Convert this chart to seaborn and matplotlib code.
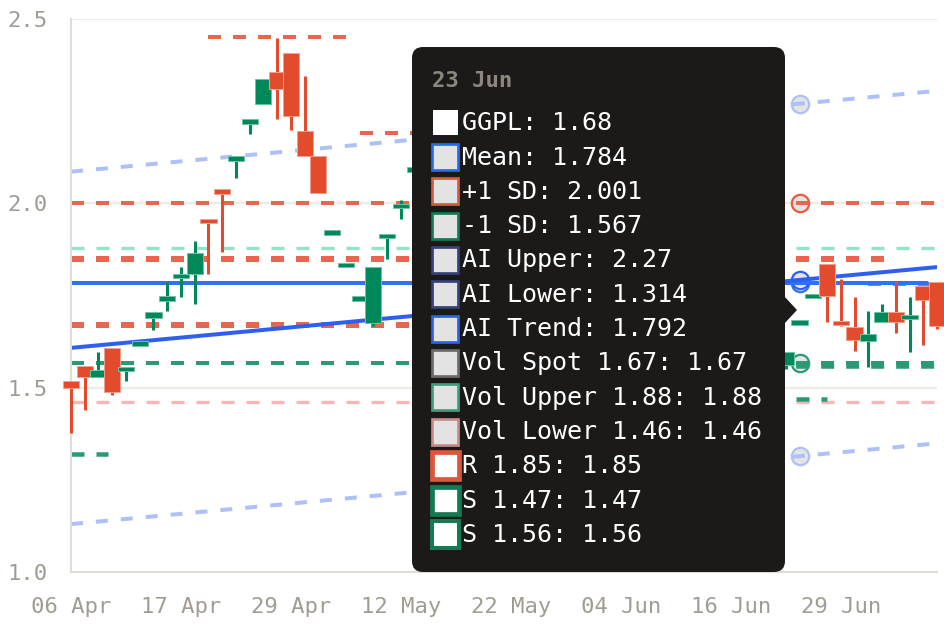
import numpy as np
import pandas as pd
import matplotlib
matplotlib.use("Agg")
import matplotlib.pyplot as plt
import seaborn as sns
from matplotlib.patches import FancyBboxPatch, Polygon, Rectangle

# ---------------- data ----------------
dates = ["06 Apr","07 Apr","08 Apr","09 Apr","10 Apr","13 Apr","14 Apr","16 Apr","17 Apr","20 Apr",
         "21 Apr","22 Apr","23 Apr","24 Apr","27 Apr","28 Apr","29 Apr","30 Apr","04 May","05 May",
         "06 May","07 May","08 May","11 May","12 May","13 May","14 May","15 May","18 May","19 May",
         "20 May","21 May","22 May","26 May","27 May","28 May","29 May","01 Jun","02 Jun","03 Jun",
         "04 Jun","05 Jun","08 Jun","09 Jun","10 Jun","11 Jun","12 Jun","15 Jun","16 Jun","17 Jun",
         "18 Jun","19 Jun","22 Jun","23 Jun","24 Jun","26 Jun","29 Jun","30 Jun","01 Jul","02 Jul",
         "06 Jul","07 Jul","08 Jul","09 Jul","10 Jul"]

opens = [1.517,1.558,1.530,1.607,1.546,1.618,1.688,1.738,1.800,1.808,
         1.955,2.035,2.118,2.219,2.269,2.357,2.407,2.196,2.128,1.918,
         1.829,1.739,1.676,1.908,1.989,2.089,
         2.095,2.06,2.00,2.02,1.97,1.92,1.95,1.87,1.89,1.86,
         1.80,1.83,1.81,1.74,1.77,1.70,1.66,1.69,1.62,1.64,
         1.67,1.60,1.58,1.62,1.59,1.56,
         1.562,1.673,1.746,1.835,1.678,1.665,1.627,1.679,1.706,1.689,1.776,1.787,1.787]
highs = [1.517,1.558,1.597,1.607,1.555,1.622,1.706,1.787,1.828,1.898,
         1.955,2.035,2.125,2.226,2.336,2.448,2.407,2.345,2.128,1.924,
         1.835,1.745,1.826,1.914,2.008,2.098,
         2.14,2.08,2.04,2.06,1.99,1.97,1.96,1.90,1.93,1.88,
         1.84,1.86,1.82,1.79,1.78,1.73,1.71,1.70,1.66,1.68,
         1.69,1.63,1.64,1.65,1.61,1.60,
         1.597,1.680,1.752,1.835,1.796,1.747,1.708,1.727,1.790,1.747,1.776,1.787,1.787]
lows = [1.378,1.440,1.530,1.479,1.517,1.618,1.656,1.708,1.747,1.727,
        1.808,1.869,2.068,2.188,2.269,2.228,2.199,2.128,2.027,1.918,
        1.829,1.739,1.668,1.848,1.957,2.080,
        2.05,1.98,1.95,1.96,1.90,1.90,1.86,1.82,1.85,1.78,
        1.77,1.79,1.72,1.73,1.68,1.64,1.65,1.60,1.58,1.61,
        1.59,1.55,1.56,1.57,1.53,1.54,
        1.550,1.673,1.746,1.679,1.668,1.599,1.557,1.679,1.649,1.597,1.616,1.660,1.670]
closes = [1.499,1.529,1.547,1.488,1.555,1.622,1.706,1.745,1.806,1.866,
          1.948,2.029,2.125,2.226,2.336,2.309,2.238,2.128,2.027,1.924,
          1.835,1.745,1.826,1.914,1.995,2.095,
          2.06,2.00,2.02,1.97,1.92,1.95,1.87,1.89,1.86,1.80,
          1.83,1.81,1.74,1.77,1.70,1.66,1.69,1.62,1.64,1.67,
          1.60,1.58,1.62,1.59,1.56,1.57,
          1.597,1.680,1.752,1.748,1.672,1.629,1.646,1.706,1.679,1.695,1.738,1.668,1.670]

# statistics / reference levels
mean_val = 1.784
sd_plus = 2.001
sd_minus = 1.567
vol_upper = 1.88
vol_lower = 1.46
ai_x = [0, 63]
ai_trend = [1.608, 1.827]
ai_upper = [2.086, 2.305]
ai_lower = [1.130, 1.349]

# short support / resistance segments
seg_values = [2.45, 2.19, 1.85, 1.67, 1.78, 1.47, 1.56, 1.32]
seg_start  = [10, 21, 0, 0, 58, 40, 38, 0]
seg_end    = [20, 30, 59.5, 48, 63, 55, 63, 2.7]
seg_kind   = ["R", "R", "R_main", "R_main", "R", "S", "S", "S"]

# hover
hover_idx = 53
tip_labels = ["GGPL", "Mean", "+1 SD", "-1 SD", "AI Upper", "AI Lower", "AI Trend",
              "Vol Spot 1.67", "Vol Upper 1.88", "Vol Lower 1.46", "R 1.85", "S 1.47", "S 1.56"]
tip_values = ["1.68", "1.784", "2.001", "1.567", "2.27", "1.314", "1.792",
              "1.67", "1.88", "1.46", "1.85", "1.47", "1.56"]

tick_every = 8

# ---------------- style ----------------
sns.set_theme(style="white")
plt.rcParams["font.family"] = ["DejaVu Sans Mono"]

RED = "#e34b2d"
GREEN = "#00875a"
LIVE = "#f39a1e"
RED_L = "#e8654f"
GREEN_L = "#2a9a74"
MINT = "#93e3c8"
PINK = "#ffb4b4"
LBLUE = "#adc1f8"
BLUE = "#2a74f5"
TBLUE = "#2f5ff0"
GRID = "#ecebe6"
TXT = "#a19c93"

W, H = 945, 630
fig = plt.figure(figsize=(W / 100, H / 100), dpi=100)
fig.patch.set_facecolor("white")
L, R, T, B = 71, 937, 19, 572
ax = fig.add_axes([L / W, (H - B) / H, (R - L) / W, (B - T) / H])
ax.set_facecolor("white")

df = pd.DataFrame({"date": dates, "open": opens, "high": highs, "low": lows, "close": closes})
df["i"] = np.arange(len(df))

XMAX = 63
ax.set_xlim(0, XMAX)
ax.set_ylim(1.0, 2.5)
PX_PER_UNIT = (R - L) / XMAX


def dashed(x0, x1, v0, v1, color, lw_px, on_px, off_px, z, align=False):
    lw = lw_px * 0.72
    if on_px:
        offset = (x0 * PX_PER_UNIT) % (on_px + off_px) if align else 0
        ls = (offset * 0.72 / lw, (on_px * 0.72 / lw, off_px * 0.72 / lw))
    else:
        ls = "-"
    sns.lineplot(x=[x0, x1], y=[v0, v1], ax=ax, color=color, linewidth=lw,
                 linestyle=ls, zorder=z, legend=False)


# grid
for v in [1.0, 1.5, 2.0, 2.5]:
    ax.axhline(v, color=GRID, lw=1.6, zorder=0.5)

# hover circles (under lines)
hover_pts = [(2.27, LBLUE), (sd_plus, "#ec5a3c"), (mean_val, BLUE), (1.792, TBLUE),
             (sd_minus, GREEN_L), (1.314, LBLUE)]
for v, c in hover_pts:
    ax.plot([hover_idx], [v], marker="o", ms=12.5, mfc="#e4e4e4", mec=c, mew=1.6,
            zorder=1.5, clip_on=False)

# full width levels
dashed(0, XMAX, vol_upper, vol_upper, MINT, 3.3, 13, 12, 2)
dashed(0, XMAX, vol_lower, vol_lower, PINK, 3.3, 13, 12, 2)
dashed(0, XMAX, sd_plus, sd_plus, RED_L, 4, 13, 12, 2.1)
dashed(0, XMAX, sd_minus, sd_minus, GREEN_L, 4, 13, 12, 2.1)

# segments
for v, s, e, k in zip(seg_values, seg_start, seg_end, seg_kind):
    if k == "R_main":
        dashed(s, e, v, v, RED_L, 6, 13, 12, 2.2)
    elif k == "R":
        dashed(s, e, v, v, RED_L, 4, 13, 12, 2.2)
    else:
        dashed(s, e, v, v, GREEN_L, 4.5, 13, 12, 2.2,
               align=abs(v - sd_minus) < 0.02)

# AI channel
dashed(ai_x[0], ai_x[1], ai_upper[0], ai_upper[1], LBLUE, 4, 12, 13, 2.3)
dashed(ai_x[0], ai_x[1], ai_lower[0], ai_lower[1], LBLUE, 4, 12, 13, 2.3)
dashed(0, 62.3, mean_val, mean_val, BLUE, 4, 0, 0, 2.4)
dashed(ai_x[0], ai_x[1], ai_trend[0], ai_trend[1], TBLUE, 4, 0, 0, 2.5)

# candles
n = len(df)
body_w = 1.17
min_h = 0.012
for _, r in df.iterrows():
    i = int(r["i"])
    if i == n - 1:
        col, edge = LIVE, LIVE
    elif r["close"] >= r["open"]:
        col, edge = GREEN, "#6cc5a2"
    else:
        col, edge = RED, "#f2a08e"
    ax.vlines(i, r["low"], r["high"], color=col, lw=2.2, zorder=3, clip_on=False)
    lo, hi = min(r["open"], r["close"]), max(r["open"], r["close"])
    if hi - lo < min_h:
        mid = (hi + lo) / 2
        lo, hi = mid - min_h / 2, mid + min_h / 2
    ax.bar(i, hi - lo, bottom=lo, width=body_w, color=col, edgecolor=edge,
           linewidth=0.7, zorder=4 if i < n - 1 else 3.9, clip_on=False)

# axes styling
for s in ["top", "right"]:
    ax.spines[s].set_visible(False)
ax.spines["left"].set_color("#e0ddd5")
ax.spines["bottom"].set_color("#e0ddd5")
ax.spines["left"].set_linewidth(1.5)
ax.spines["bottom"].set_linewidth(1.5)
ax.spines["left"].set_zorder(2.6)

ax.set_yticks([1.0, 1.5, 2.0, 2.5])
ax.set_yticklabels(["1.0", "1.5", "2.0", "2.5"])
ticks = list(range(0, 57, tick_every))
ax.set_xticks(ticks)
ax.set_xticklabels([dates[t] for t in ticks])
ax.tick_params(axis="y", length=12, width=1.5, color=GRID, pad=5, labelsize=16, labelcolor=TXT)
ax.tick_params(axis="x", length=0, pad=18, labelsize=16, labelcolor=TXT)
ax.set_xlabel("")
ax.set_ylabel("")
ax.grid(False)

# ---------------- tooltip overlay ----------------
ov = fig.add_axes([0, 0, 1, 1], zorder=10)
ov.set_xlim(0, W)
ov.set_ylim(H, 0)
ov.axis("off")
ov.patch.set_alpha(0)

bx0, by0, bx1, by1, rad = 412, 47, 785, 572, 11
ov.add_patch(FancyBboxPatch((bx0 + rad, by0 + rad), bx1 - bx0 - 2 * rad, by1 - by0 - 2 * rad,
                            boxstyle=f"round,pad={rad}", fc="#1c1a18", ec="none"))
ov.add_patch(Polygon([(bx1 - 1, 296), (797, 310), (bx1 - 1, 324)], closed=True, fc="#1c1a18", ec="none"))

ov.text(432, 87, dates[hover_idx], color="#8d877f", fontsize=16, fontweight="bold",
        family="DejaVu Sans Mono", va="baseline", ha="left")

sq = [(None, 0, "white", 25),
      ("#1f6ef5", 2.7, "#e3e3e3", 26),
      ("#d65a3e", 2.7, "#e3e3e3", 26),
      ("#167a56", 2.7, "#e3e3e3", 26),
      ("#34417a", 2.7, "#e3e3e3", 26),
      ("#34417a", 2.7, "#e3e3e3", 26),
      ("#2d5ff0", 2.7, "#e3e3e3", 26),
      ("#6b6b6b", 2.7, "#e3e3e3", 26),
      ("#3d9f7c", 2.7, "#e3e3e3", 26),
      ("#c98a8a", 2.7, "#e3e3e3", 26),
      ("#d9573b", 4.7, "white", 27),
      ("#137a52", 4.7, "white", 27),
      ("#137a52", 4.0, "white", 27)]
for k, (lab, val) in enumerate(zip(tip_labels, tip_values)):
    cy = 121.3 + 34.3 * k
    ec, lw, fc, s = sq[k]
    ov.add_patch(Rectangle((445 - s / 2, cy + 1.5 - s / 2), s, s, fc=fc,
                           ec=ec if ec else "none", lw=lw * 0.72))
    ov.text(462, cy + 9, f"{lab}: {val}", color="white", fontsize=18,
            family="DejaVu Sans Mono", va="baseline", ha="left")

fig.savefig("out.png", dpi=100, facecolor="white")
